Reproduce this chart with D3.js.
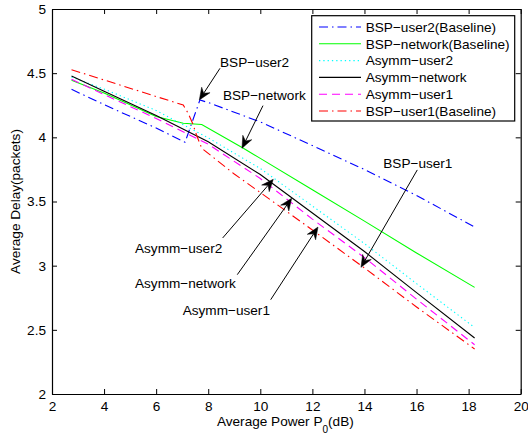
<!DOCTYPE html>
<html><head><meta charset="utf-8">
<script src="https://cdn.jsdelivr.net/npm/d3@7"></script>
<style>
html,body{margin:0;padding:0;background:#fff;}
svg{display:block;}
text{font-family:"Liberation Sans",Arial,Helvetica,sans-serif;}
</style></head>
<body>
<svg id="chart" width="528" height="436"></svg>
<script>
// ---------- data ----------
const xAsymm = [2.75, 4, 6, 8, 10, 12, 14, 16, 18.23];
const asymmNetwork = [4.478, 4.36, 4.17, 3.965, 3.71, 3.41, 3.11, 2.79, 2.436];
const asymmUser1  = [4.452, 4.333, 4.147, 3.946, 3.679, 3.363, 3.063, 2.739, 2.384];
const asymmUser2  = [4.47, 4.376, 4.209, 3.996, 3.757, 3.465, 3.172, 2.86, 2.518];

const xBspNetwork = [2.75, 4, 6, 7.04, 7.75, 9.35, 10, 12, 14, 16, 18.23];
const bspNetwork  = [4.445, 4.345, 4.163, 4.11, 4.10, 3.915, 3.836, 3.592, 3.347, 3.099, 2.831];

const xBspUser1 = [2.75, 4, 6, 7.04, 7.23, 7.41, 7.55, 7.75, 9, 10, 12, 14, 16, 18.23];
const bspUser1  = [4.527, 4.447, 4.318, 4.252, 4.187, 4.104, 4.018, 3.915, 3.714, 3.570, 3.278, 2.982, 2.678, 2.351];

const xBspUser2 = [2.75, 4, 6, 7.11, 7.68, 8, 10, 12, 14, 16, 18.23];
const bspUser2  = [4.374, 4.255, 4.072, 3.962, 4.291, 4.271, 4.12, 3.936, 3.749, 3.547, 3.301];

const xTicks = [2, 4, 6, 8, 10, 12, 14, 16, 18, 20];
const yTicks = [2, 2.5, 3, 3.5, 4, 4.5, 5];

const legendNames = ["BSP\u2212user2(Baseline)", "BSP\u2212network(Baseline)", "Asymm\u2212user2",
                     "Asymm\u2212network", "Asymm\u2212user1", "BSP\u2212user1(Baseline)"];

// annotation labels: text anchor point, arrow tail, arrow tip (data coordinates)
const annLabels = ["BSP\u2212user2", "BSP\u2212network", "BSP\u2212user1", "Asymm\u2212user2", "Asymm\u2212network", "Asymm\u2212user1"];
const annText = [[8.452, 4.551], [8.567, 4.291], [14.723, 3.761], [5.187, 3.099], [5.187, 2.826], [7.019, 2.616]];
const annTail = [[8.452, 4.538], [10.103, 4.247], [16.028, 3.746], [8.555, 3.216], [9.116, 2.930], [10.399, 2.735]];
const annTip  = [[7.657, 4.291], [9.296, 3.915], [13.866, 2.987], [10.498, 3.673], [11.205, 3.525], [12.215, 3.301]];

// ---------- layout ----------
const svg = d3.select("#chart");
const L = 52, R = 520.7, T = 9, B = 394;
const x = d3.scaleLinear().domain([2, 20]).range([L, R]);
const y = d3.scaleLinear().domain([2, 5]).range([B, T]);
const FS = 13.6;

const series = [
  {xs: xBspUser2, ys: bspUser2, color: "#0000ff", dash: "9,4,1.5,4"},
  {xs: xBspNetwork, ys: bspNetwork, color: "#00ff00", dash: null},
  {xs: xAsymm, ys: asymmUser2, color: "#00ffff", dash: "1.3,3"},
  {xs: xAsymm, ys: asymmNetwork, color: "#000000", dash: null},
  {xs: xAsymm, ys: asymmUser1, color: "#ff00ff", dash: "8,5"},
  {xs: xBspUser1, ys: bspUser1, color: "#ff0000", dash: "9,4,1.5,4"}
];

svg.append("rect").attr("width", 528).attr("height", 436).attr("fill", "#fff");

const line = d3.line().x(d => x(d[0])).y(d => y(d[1]));
const gLines = svg.append("g");
series.forEach(s => {
  const pts = s.xs.map((v, i) => [v, s.ys[i]]);
  gLines.append("path").attr("d", line(pts)).attr("fill", "none")
    .attr("stroke", s.color).attr("stroke-width", 1.1)
    .attr("stroke-dasharray", s.dash);
});

// axes
function styleAxis(g) {
  g.selectAll("path.domain").attr("stroke", "#000").attr("stroke-width", 1.2);
  g.selectAll(".tick line").attr("stroke", "#000").attr("stroke-width", 1);
  g.selectAll("text").attr("font-size", FS).attr("fill", "#000")
    .attr("font-family", '"Liberation Sans",Arial,Helvetica,sans-serif');
}
svg.append("g").attr("transform", `translate(0,${B})`)
  .call(d3.axisBottom(x).tickValues(xTicks).tickFormat(d3.format("d")).tickSizeInner(-5).tickSizeOuter(0).tickPadding(7.6))
  .call(styleAxis);
svg.append("g").attr("transform", `translate(${L},0)`)
  .call(d3.axisLeft(y).tickValues(yTicks).tickFormat(d => d3.format("")(d)).tickSizeInner(-5).tickSizeOuter(0).tickPadding(6))
  .call(styleAxis);
svg.append("g").attr("transform", `translate(0,${T})`)
  .call(d3.axisTop(x).tickValues(xTicks).tickFormat("").tickSizeInner(-5).tickSizeOuter(0))
  .call(styleAxis);
svg.append("g").attr("transform", `translate(${R},0)`)
  .call(d3.axisRight(y).tickValues(yTicks).tickFormat("").tickSizeInner(-5).tickSizeOuter(0))
  .call(styleAxis);

// axis labels
const xl = svg.append("text").attr("x", (L + R) / 2 - 1).attr("y", 426)
  .attr("text-anchor", "middle").attr("font-size", FS);
xl.append("tspan").text("Average Power P");
xl.append("tspan").attr("font-size", 10).attr("dy", 6.5).text("0");
xl.append("tspan").attr("dy", -6.5).text("(dB)");

svg.append("text").attr("transform", `translate(19.5,${(T + B) / 2}) rotate(-90)`)
  .attr("text-anchor", "middle").attr("font-size", FS).text("Average Delay(packets)");

// annotations
const gAnn = svg.append("g");
annLabels.forEach((lab, i) => {
  gAnn.append("text").attr("x", x(annText[i][0])).attr("y", y(annText[i][1]))
    .attr("font-size", FS).text(lab);
  const x0 = x(annTail[i][0]), y0 = y(annTail[i][1]);
  const x1 = x(annTip[i][0]), y1 = y(annTip[i][1]);
  const dx = x1 - x0, dy = y1 - y0, len = Math.hypot(dx, dy);
  const ux = dx / len, uy = dy / len, px = -uy, py = ux;
  const HL = 12, HW = 5, NT = 4;
  gAnn.append("line").attr("x1", x0).attr("y1", y0)
    .attr("x2", x1 - ux * (HL - NT)).attr("y2", y1 - uy * (HL - NT))
    .attr("stroke", "#000").attr("stroke-width", 1);
  const bx = x1 - ux * HL, by = y1 - uy * HL;
  const nx = x1 - ux * (HL - NT), ny = y1 - uy * (HL - NT);
  gAnn.append("path")
    .attr("d", `M${x1},${y1}L${bx + px * HW},${by + py * HW}L${nx},${ny}L${bx - px * HW},${by - py * HW}Z`)
    .attr("fill", "#000").attr("stroke", "#000").attr("stroke-width", 0.5);
});

// legend
const lg = svg.append("g");
const lgX0 = 311.7, lgY0 = 15.7, lgW = 203, lgH = 105.3;
lg.append("rect").attr("x", lgX0).attr("y", lgY0).attr("width", lgW).attr("height", lgH)
  .attr("fill", "#fff").attr("stroke", "#000").attr("stroke-width", 1.2);
series.forEach((s, i) => {
  const yy = 27 + i * 16.8;
  lg.append("line").attr("x1", 319).attr("x2", 361).attr("y1", yy).attr("y2", yy)
    .attr("stroke", s.color).attr("stroke-width", 1.1).attr("stroke-dasharray", s.dash);
  lg.append("text").attr("x", 365.7).attr("y", yy + 4.8).attr("font-size", FS).text(legendNames[i]);
});
</script>
</body></html>
